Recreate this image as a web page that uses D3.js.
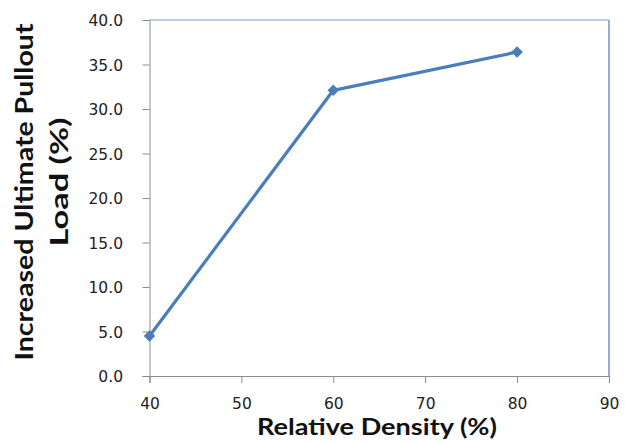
<!DOCTYPE html>
<html><head><meta charset="utf-8">
<script src="https://cdn.jsdelivr.net/npm/d3@7"></script>
<style>body{margin:0;background:#fff;} svg{display:block;}</style>
</head><body>
<svg id="c" width="629" height="443"></svg>
<script>
const relativeDensity = [40, 60, 80];
const increasedLoad = [4.5, 32.1, 36.4];
const xTicks = [40, 50, 60, 70, 80, 90];
const yTicks = [0, 5, 10, 15, 20, 25, 30, 35, 40];
const xTitle = "Relative Density (%)";
const yTitleLines = ["Increased Ultimate Pullout", "Load (%)"];

const svg = d3.select("#c");
const L = 149.5, R = 609, T = 20, B = 376;
const x = d3.scaleLinear().domain([40, 90]).range([L, R]);
const y = d3.scaleLinear().domain([0, 40]).range([B, T]);
const tickFont = "'DejaVu Sans', sans-serif";
const titleFont = "Lato, 'Open Sans', sans-serif";

// plot border (top/right)
svg.append("line").attr("x1", L).attr("x2", R).attr("y1", T).attr("y2", T)
  .attr("stroke", "#a7bfe0").attr("stroke-width", 1.5);
svg.append("line").attr("x1", R).attr("x2", R).attr("y1", T).attr("y2", B)
  .attr("stroke", "#6f93c8").attr("stroke-width", 1.5);

const yAxis = svg.append("g").attr("transform", `translate(${L},0)`)
  .call(d3.axisLeft(y).tickValues(yTicks).tickSize(7).tickPadding(20).tickFormat(d3.format(".1f")));
const xAxis = svg.append("g").attr("transform", `translate(0,${B})`)
  .call(d3.axisBottom(x).tickValues(xTicks).tickSize(7).tickPadding(18).tickFormat(d3.format("d")));
[yAxis, xAxis].forEach(g => {
  g.select(".domain").attr("stroke", "#8c8c8c").attr("stroke-width", 1);
  g.selectAll(".tick line").attr("stroke", "#8c8c8c");
  g.selectAll("text").attr("fill", "#222").style("font-family", tickFont).style("font-size", "15.5px");
});
yAxis.selectAll("text").attr("x", -26.5).attr("text-anchor", "end").attr("dy", "0.36em");
xAxis.selectAll("text").attr("y", 32.5).attr("dy", 0);

const line = d3.line().x((d, i) => x(relativeDensity[i])).y(d => y(d));
svg.append("path").datum(increasedLoad).attr("d", line)
  .attr("fill", "none").attr("stroke", "#4a7ebb").attr("stroke-width", 3.2)
  .attr("stroke-linejoin", "round");

svg.selectAll(".mk").data(increasedLoad).enter().append("path")
  .attr("transform", (d, i) => `translate(${x(relativeDensity[i])},${y(d)})`)
  .attr("d", d3.symbol().type(d3.symbolDiamond2).size(85))
  .attr("fill", "#4a7ebb");

svg.append("text").attr("x", 377).attr("y", 435).attr("text-anchor", "middle")
  .attr("textLength", 240).attr("lengthAdjust", "spacingAndGlyphs")
  .style("font-family", titleFont).style("font-weight", "bold").style("font-size", "23px")
  .attr("fill", "#111").text(xTitle);

const yPos = [[33, 192, 337], [68, 182, 129]];
yTitleLines.forEach((t, i) => {
  svg.append("text").attr("transform", `translate(${yPos[i][0]},${yPos[i][1]}) rotate(-90)`)
    .attr("text-anchor", "middle")
    .attr("textLength", yPos[i][2]).attr("lengthAdjust", "spacingAndGlyphs")
    .style("font-family", titleFont).style("font-weight", "bold").style("font-size", "25px")
    .attr("fill", "#111").text(t);
});
</script>
</body></html>
